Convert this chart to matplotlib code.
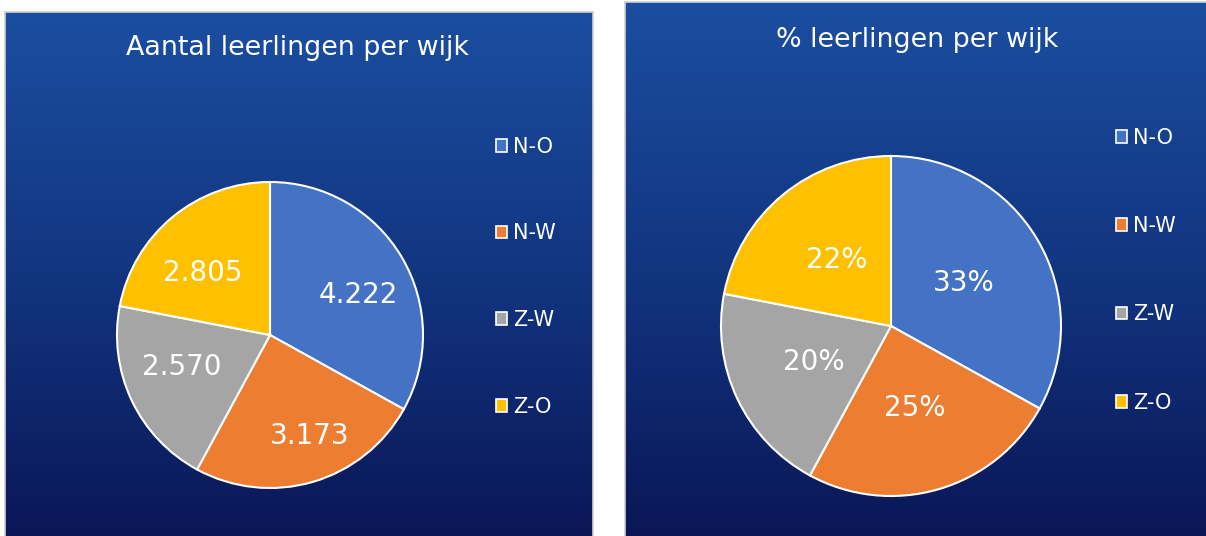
import matplotlib.pyplot as plt
import numpy as np
from matplotlib.colors import LinearSegmentedColormap
from matplotlib.patches import Patch

plt.rcParams.update({"font.family": "DejaVu Sans"})

# data
wijken = ["N-O", "N-W", "Z-W", "Z-O"]
aantal = [4222, 3173, 2570, 2805]
aantal_labels = ["4.222", "3.173", "2.570", "2.805"]
kleuren = ["#4472C4", "#ED7D31", "#A5A5A5", "#FFC000"]

W, H = 1206, 536
fig = plt.figure(figsize=(W / 100, H / 100), dpi=100)
fig.patch.set_facecolor("white")

bg = LinearSegmentedColormap.from_list("bg", ["#0a1656", "#123580", "#1b4ea0"])
grad = np.linspace(0, 1, 256).reshape(-1, 1)


def px(x0, y0, x1, y1):
    # pixel box (top-left origin) -> figure fraction rect
    return [x0 / W, 1 - y1 / H, (x1 - x0) / W, (y1 - y0) / H]


def panel(box):
    ax = fig.add_axes(px(*box))
    ax.imshow(grad, aspect="auto", cmap=bg, origin="lower", extent=[0, 1, 0, 1])
    ax.set_xticks([])
    ax.set_yticks([])
    for s in ax.spines.values():
        s.set_color("#d0d0d0")
        s.set_linewidth(1.2)
    return ax


def pie(center, r, labels, dist, nudge=None):
    cx, cy = center
    ax = fig.add_axes(px(cx - r, cy - r, cx + r, cy + r))
    wedges, _ = ax.pie(aantal, colors=kleuren, startangle=90, counterclock=False,
                       radius=1, wedgeprops=dict(edgecolor="white", linewidth=1.5,
                                                 clip_on=False))
    if nudge is None:
        nudge = [(0, 0)] * len(labels)
    for w, lab, (nx, ny) in zip(wedges, labels, nudge):
        a = np.deg2rad((w.theta1 + w.theta2) / 2)
        # label offsets in pixels (x right, y down), as placed in the original
        ax.text(dist * np.cos(a) + nx / r, dist * np.sin(a) - ny / r, lab,
                color="white", fontsize=20, ha="center", va="center")
    ax.set_xlim(-1, 1)
    ax.set_ylim(-1, 1)
    ax.set_aspect("equal")
    ax.axis("off")
    return ax


def legend(x, y, spacing):
    handles = [Patch(facecolor=c, edgecolor="white", linewidth=1.2) for c in kleuren]
    fig.legend(handles, wijken, loc="upper left", bbox_to_anchor=(x / W, 1 - y / H),
               frameon=False, fontsize=15, labelcolor="white", handlelength=0.55,
               handleheight=0.55, handletextpad=0.3, labelspacing=spacing)


# left panel
panel((5, 12, 593, 540))
fig.text(298 / W, 1 - 48 / H, "Aantal leerlingen per wijk", color="white",
         fontsize=19.4, ha="center", va="center")
pie((270, 335), 153, aantal_labels, 0.64,
    nudge=[(4, 10), (12, 7), (0, -10), (-5, 14)])
legend(477, 118, 3.2)

# right panel
totaal = sum(aantal)
pct_labels = [f"{round(v / totaal * 100)}%" for v in aantal]
panel((625, 2, 1210, 540))
fig.text(917 / W, 1 - 40 / H, "% leerlingen per wijk", color="white",
         fontsize=19.4, ha="center", va="center")
pie((891, 326), 170, pct_labels, 0.5)
legend(1097, 109, 3.28)

fig.savefig("out.png", dpi=100)
